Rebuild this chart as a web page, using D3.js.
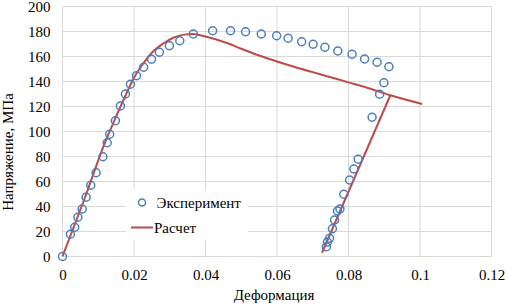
<!DOCTYPE html>
<html>
<head>
<meta charset="utf-8">
<script src="https://cdn.jsdelivr.net/npm/d3@7"></script>
<style>
  body { margin: 0; background: #fff; }
</style>
</head>
<body>
<svg id="chart"></svg>
<script>
// data
var xTicks = [0, 0.02, 0.04, 0.06, 0.08, 0.1, 0.12];
var yTicks = [0, 20, 40, 60, 80, 100, 120, 140, 160, 180, 200];

var expStrain = [0, 0.0022, 0.0034, 0.0043, 0.0055, 0.0066, 0.0079, 0.0094, 0.0113, 0.0125, 0.0132,
  0.0148, 0.0162, 0.0176, 0.019, 0.0207, 0.0227, 0.0249, 0.0271, 0.0299, 0.0328, 0.0366,
  0.042, 0.047, 0.0512, 0.0556, 0.0599, 0.0631, 0.0669, 0.0701, 0.0734, 0.077, 0.081, 0.0845, 0.088, 0.0913,
  0.0899, 0.0887, 0.0866, 0.0827, 0.0815, 0.0803, 0.0787, 0.0776, 0.0769, 0.0761, 0.0755, 0.0747, 0.0741, 0.0738];
var expStress = [0, 17.8, 23.4, 31.4, 38, 47.4, 57, 67, 79.8, 91, 97.8,
  108.6, 120.4, 130, 137.8, 144.6, 151.4, 157.8, 163.4, 168.6, 172.6, 178,
  180.6, 180.6, 179.8, 178, 176.6, 174.6, 171.8, 169.8, 167.4, 164.4, 161.8, 158, 155.4, 151.8,
  139, 129.8, 111.4, 77.8, 70, 61.2, 49.8, 38, 36.4, 29.2, 22.2, 14.6, 11.6, 7.8];

var calcStrain = [0, 0.006, 0.012, 0.015, 0.0175, 0.02, 0.0225, 0.025, 0.028, 0.031, 0.034, 0.0365,
  0.04, 0.046, 0.05, 0.055, 0.06, 0.065, 0.07, 0.075, 0.08, 0.085, 0.0917, 0.1006];
var calcStress = [0, 45, 92, 112, 128, 143, 154, 163, 170, 175, 177.5, 178,
  176, 170.8, 166.2, 160.8, 156, 151.6, 147.5, 143.4, 139.3, 135.2, 129, 122];

var unloadStrain = [0.0917, 0.0726];
var unloadStress = [129, 3];

var FONT = "'Liberation Serif', serif";

var W = 506, H = 308;
var margin = {top: 6.5, right: 14.5, bottom: 51.5, left: 62.5};
var width = W - margin.left - margin.right,
    height = H - margin.top - margin.bottom;

var svg = d3.select("#chart").attr("width", W).attr("height", H);

var x = d3.scaleLinear().domain([0, 0.12]).range([margin.left, margin.left + width]);
var y = d3.scaleLinear().domain([0, 200]).range([margin.top + height, margin.top]);

// grid
svg.append("g").selectAll("line")
  .data(yTicks).enter().append("line")
  .attr("x1", x(0)).attr("x2", x(0.12))
  .attr("y1", d => y(d)).attr("y2", d => y(d))
  .attr("stroke", "#d9d9d9").attr("stroke-width", 1);
svg.append("g").selectAll("line")
  .data(xTicks).enter().append("line")
  .attr("x1", d => x(d)).attr("x2", d => x(d))
  .attr("y1", y(0)).attr("y2", y(200))
  .attr("stroke", "#d9d9d9").attr("stroke-width", 1);

// axes (labels only)
var xAxis = svg.append("g")
  .attr("transform", "translate(0," + y(0) + ")")
  .call(d3.axisBottom(x).tickValues(xTicks).tickSize(0).tickPadding(13)
    .tickFormat(d => d === 0 ? "0" : String(+d.toFixed(2))));
xAxis.select(".domain").remove();
xAxis.attr("font-family", FONT).attr("font-size", 15);
xAxis.selectAll("text").attr("fill", "#000");

var yAxis = svg.append("g")
  .attr("transform", "translate(" + (x(0) - 12) + ",0)")
  .call(d3.axisLeft(y).tickValues(yTicks).tickSize(0).tickPadding(0));
yAxis.select(".domain").remove();
yAxis.attr("font-family", FONT).attr("font-size", 15);
yAxis.selectAll("text").attr("fill", "#000");

// axis titles
svg.append("text")
  .attr("x", 274).attr("y", 300)
  .attr("text-anchor", "middle")
  .attr("font-family", FONT).attr("font-size", 15)
  .text("Деформация");
svg.append("text")
  .attr("transform", "translate(13,152) rotate(-90)")
  .attr("text-anchor", "middle")
  .attr("font-family", FONT).attr("font-size", 15)
  .text("Напряжение, МПа");

// calculated curve
var line = d3.line().x(d => x(d[0])).y(d => y(d[1])).curve(d3.curveMonotoneX);
svg.append("path")
  .datum(calcStrain.map((v, i) => [v, calcStress[i]]))
  .attr("fill", "none").attr("stroke", "#be4b48").attr("stroke-width", 2)
  .attr("d", line);
svg.append("path")
  .datum(unloadStrain.map((v, i) => [v, unloadStress[i]]))
  .attr("fill", "none").attr("stroke", "#be4b48").attr("stroke-width", 2)
  .attr("d", d3.line().x(d => x(d[0])).y(d => y(d[1])));

// experiment markers
svg.append("g").selectAll("circle")
  .data(expStrain.map((v, i) => [v, expStress[i]]))
  .enter().append("circle")
  .attr("cx", d => x(d[0])).attr("cy", d => y(d[1]))
  .attr("r", 4)
  .attr("fill", "none").attr("stroke", "#4a7ebb").attr("stroke-width", 1.5);

// legend
var lg = svg.append("g").attr("font-family", FONT).attr("font-size", 15);
lg.append("rect").attr("x", 126).attr("y", 190).attr("width", 122).attr("height", 50).attr("fill", "#fff");
lg.append("circle").attr("cx", 142).attr("cy", 202.5).attr("r", 3.5)
  .attr("fill", "none").attr("stroke", "#4a7ebb").attr("stroke-width", 1.5);
lg.append("text").attr("x", 156.5).attr("y", 207.5).text("Эксперимент");
lg.append("line").attr("x1", 131).attr("x2", 153).attr("y1", 227.5).attr("y2", 227.5)
  .attr("stroke", "#be4b48").attr("stroke-width", 2);
lg.append("text").attr("x", 154).attr("y", 232.5).text("Расчет");
</script>
</body>
</html>
